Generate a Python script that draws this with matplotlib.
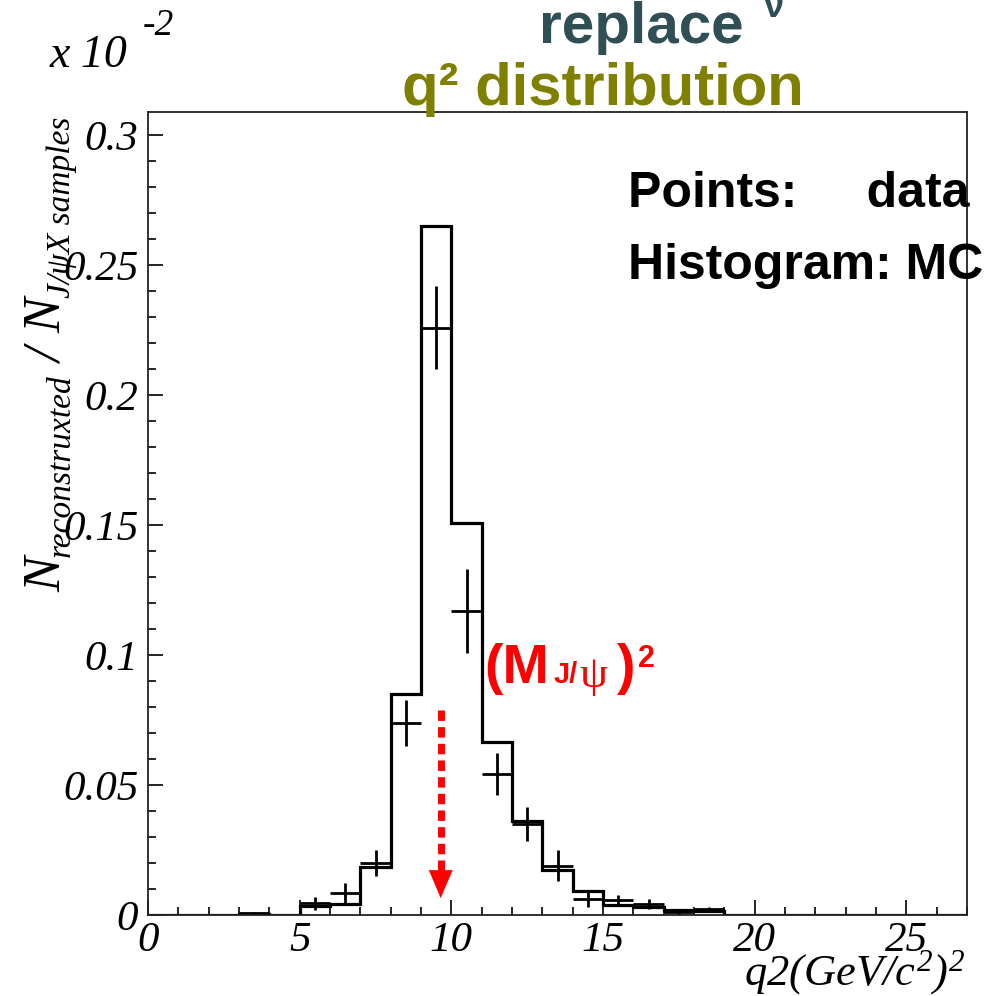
import matplotlib
matplotlib.use('Agg')
import matplotlib.pyplot as plt
import numpy as np
from matplotlib.ticker import MultipleLocator, FixedLocator, FixedFormatter

# ---------------- data ----------------
bin_edges = list(range(0, 28))  # 27 bins of width 1, 0..27
mc_hist = [0, 0, 0, 0.0004, 0, 0.0035, 0.0042, 0.0185, 0.085, 0.265,
           0.151, 0.0667, 0.0363, 0.0175, 0.0092, 0.0040, 0.0030, 0.0019,
           0.0015, 0, 0, 0, 0, 0, 0, 0, 0]
data_bins = [3, 5, 6, 7, 8, 9, 10, 11, 12, 13, 14, 15, 16, 17, 18]
data_vals = [0.0008, 0.0045, 0.0085, 0.0200, 0.0738, 0.226, 0.117, 0.0543,
             0.0350, 0.0190, 0.0062, 0.0058, 0.0042, 0.0010, 0.0022]
data_errs = [0.0005, 0.0025, 0.0040, 0.0050, 0.0088, 0.016, 0.016, 0.0081,
             0.0065, 0.0060, 0.0030, 0.0020, 0.0018, 0.0010, 0.0010]
y_ticks = [0, 0.05, 0.1, 0.15, 0.2, 0.25, 0.3]
y_tick_labels = ['0', '0.05', '0.1', '0.15', '0.2', '0.25', '0.3']
x_ticks = [0, 5, 10, 15, 20, 25]
x_tick_labels = ['0', '5', '10', '15', '20', '25']
arrow_x = 9.65
arrow_y_top = 0.079
arrow_y_tip = 0.0065

W, H = 991, 996
plt.rcParams['mathtext.fontset'] = 'custom'
plt.rcParams['mathtext.it'] = 'Liberation Serif:italic'
plt.rcParams['mathtext.rm'] = 'Liberation Serif:italic'

fig = plt.figure(figsize=(W / 100, H / 100), dpi=100)
ax = fig.add_axes([148 / W, 1 - 915 / H, (967 - 148) / W, (915 - 112) / H])
renderer = fig.canvas.get_renderer()


def px(x, y):
    return (x / W, 1 - y / H)


# histogram (MC)
ax.stairs(mc_hist, bin_edges, color='black', lw=2.3, baseline=0)

# data points
centers = np.array(data_bins) + 0.5
ax.errorbar(centers, data_vals, yerr=data_errs, xerr=0.5, fmt='none',
            ecolor='black', elinewidth=2.0, capsize=0)

# red arrow
ax.plot([arrow_x, arrow_x], [arrow_y_top, arrow_y_tip + 0.010], color='red',
        lw=5, linestyle=(0, (1.5, 0.9)), solid_capstyle='butt')
ax.annotate('', xy=(arrow_x, arrow_y_tip), xytext=(arrow_x, arrow_y_tip + 0.0125),
            arrowprops=dict(arrowstyle='-|>,head_width=0.85,head_length=2.0',
                            color='red', lw=0.1, shrinkA=0, shrinkB=0))

ax.set_xlim(0, 27)
ax.set_ylim(0, 0.309)

# ticks
ax.yaxis.set_major_locator(FixedLocator(y_ticks))
ax.yaxis.set_major_formatter(FixedFormatter(y_tick_labels))
ax.yaxis.set_minor_locator(MultipleLocator(0.01))
ax.xaxis.set_major_locator(FixedLocator(x_ticks))
ax.xaxis.set_major_formatter(FixedFormatter(x_tick_labels))
ax.xaxis.set_minor_locator(MultipleLocator(1))
ax.tick_params(which='both', direction='in', top=False, right=False, width=1.2, color='black')
ax.tick_params(which='major', length=11)
ax.tick_params(which='minor', length=5.5)
ax.tick_params(axis='y', pad=7)
ax.tick_params(axis='x', pad=5)
for lab in ax.get_xticklabels() + ax.get_yticklabels():
    lab.set_fontfamily('Liberation Serif')
    lab.set_fontstyle('italic')
    lab.set_fontsize(31)
for s in ax.spines.values():
    s.set_linewidth(1.3)
    s.set_color('#222222')

# y axis label built from pieces (rotated, read bottom to top)
ylab_pieces = [('N', 38, 0), ('reconstruxted', 24, 10), (' / ', 38, 0),
               ('N', 38, 0), ('J/ψX samples', 24, 10)]
ypos = 592.0
for txt, size, shift in ylab_pieces:
    t = fig.text(*px(60 + shift, ypos), txt, rotation=90, rotation_mode='anchor',
                 ha='left', va='baseline', family='Liberation Serif', style='italic',
                 size=size)
    bb = t.get_window_extent(renderer)
    ypos -= bb.height

# x axis label
fig.text(*px(965, 985), r'$q2(GeV/c^{2})^{2}$', ha='right', va='baseline', fontsize=32)

# exponent
fig.text(*px(50, 67), 'x 10', ha='left', va='baseline', family='Liberation Serif',
         style='italic', size=33)
fig.text(*px(143, 35), '-2', ha='left', va='baseline', family='Liberation Serif',
         style='italic', size=27)

# titles
fig.text(*px(641, 43), 'replace', ha='center', va='baseline', family='Liberation Sans',
         weight='bold', size=42, color='#2f4f55')
fig.text(*px(763, 17), 'ν', ha='left', va='baseline', family='Liberation Sans',
         weight='bold', size=26, color='#2f4f55')
fig.text(*px(603, 105), 'q² distribution', ha='center', va='baseline',
         family='Liberation Sans', weight='bold', size=43, color='#808000')

# legend-like texts
bold = dict(family='Liberation Sans', weight='bold', size=36, color='black')
fig.text(*px(628, 207), 'Points:     data', ha='left', va='baseline', **bold)
fig.text(*px(628, 279), 'Histogram: MC', ha='left', va='baseline', **bold)

# red label (M_J/psi)^2
red = '#ff0000'
fig.text(*px(484, 683), '(M', ha='left', va='baseline', family='Liberation Sans',
         weight='bold', size=40, color=red)
fig.text(*px(554, 683), 'J/', ha='left', va='baseline', family='Liberation Sans',
         weight='bold', size=21, color=red)
fig.text(*px(579, 687), 'ψ', ha='left', va='baseline', family='Liberation Serif',
         size=32, color=red)
fig.text(*px(617, 683), ')', ha='left', va='baseline', family='Liberation Sans',
         weight='bold', size=40, color=red)
fig.text(*px(638, 667), '2', ha='left', va='baseline', family='Liberation Sans',
         weight='bold', size=22, color=red)

fig.savefig('out.png', dpi=100)
